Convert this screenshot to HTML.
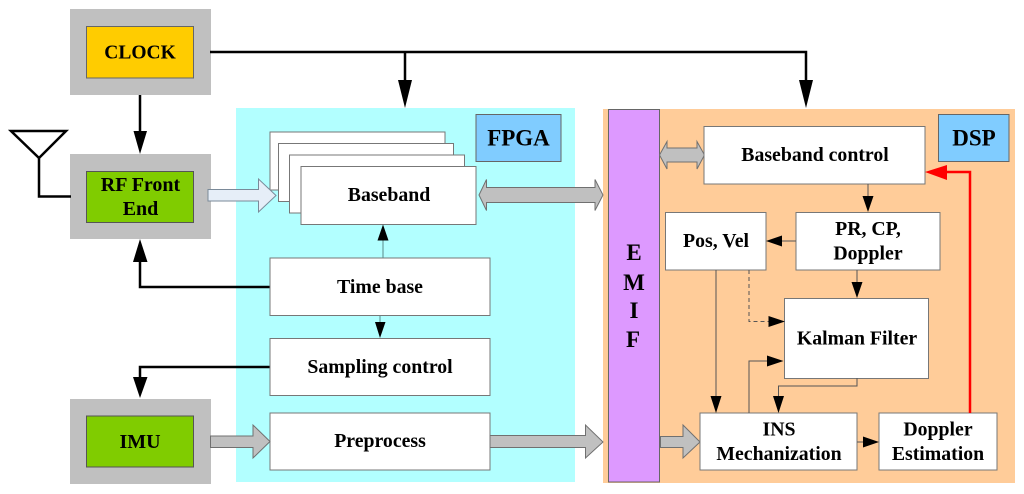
<!DOCTYPE html>
<html><head><meta charset="utf-8"><style>
html,body{margin:0;padding:0;background:#fff;width:1024px;height:494px;overflow:hidden}
svg{display:block}
text{font-family:"Liberation Serif",serif;font-weight:bold;fill:#000;text-anchor:middle}
.b{fill:#fff;stroke:#777;stroke-width:1}
.g{fill:#c0c0c0}
.ar{fill:#c0c0c0;stroke:#707070;stroke-width:1}
.k{fill:none;stroke:#000;stroke-width:2.5}
.t{fill:none;stroke:#555;stroke-width:1}
</style></head><body>
<svg width="1024" height="494" viewBox="0 0 1024 494" xmlns="http://www.w3.org/2000/svg">
<rect x="236" y="108" width="339" height="374" fill="#b2ffff"/>
<rect x="603" y="109" width="412" height="374" fill="#ffcc99"/>
<rect class="g" x="70" y="9" width="141" height="86"/>
<rect class="g" x="70" y="154" width="141" height="85"/>
<rect class="g" x="70" y="399" width="141" height="85"/>
<rect x="86.500" y="26.500" width="107" height="51.500" fill="#ffcc00" stroke="#666"/>
<rect x="86.500" y="171.500" width="107" height="51" fill="#80cc00" stroke="#555"/>
<rect x="86.500" y="416" width="107" height="51" fill="#80cc00" stroke="#555"/>
<text x="140" y="58.500" font-size="19.500">CLOCK</text>
<text x="140.500" y="191" font-size="20">RF Front</text>
<text x="140.500" y="215" font-size="20">End</text>
<text x="140" y="448" font-size="20">IMU</text>

<!-- antenna -->
<path class="k" d="M11 131H66L39 158ZM39 158V196.500H71"/>
<!-- clock lines -->
<path class="k" d="M210 52H806V82M405 52V82M140 95V134M272 287H140V262M270 367H140V377"/>
<path d="M133.500 131H147L140 154ZM398 80H412L405 108ZM799 80H813L806 108ZM133 262H147.500L140 239ZM133 377H147.500L140 398Z"/>

<!-- baseband stack -->
<rect class="b" x="270" y="132" width="175" height="58"/>
<rect class="b" x="278.500" y="143.500" width="175" height="58"/>
<rect class="b" x="289.500" y="155" width="175" height="58"/>
<rect class="b" x="301" y="166.500" width="175" height="58"/>
<text x="389" y="201" font-size="19.800">Baseband</text>

<rect class="b" x="270" y="258" width="220" height="57.500"/>
<rect class="b" x="270" y="338.500" width="220" height="57"/>
<rect class="b" x="270" y="413" width="220" height="57"/>
<text x="380" y="293" font-size="19.800">Time base</text>
<text x="380" y="373" font-size="19.800">Sampling control</text>
<text x="380" y="447" font-size="19.800">Preprocess</text>

<rect x="476" y="114.500" width="85" height="47" fill="#80ccff" stroke="#666"/>
<text x="518.500" y="145.500" font-size="23">FPGA</text>
<rect x="938.500" y="114.500" width="70.500" height="47" fill="#80ccff" stroke="#666"/>
<text x="974" y="145.500" font-size="23">DSP</text>

<rect x="608.500" y="109.500" width="51" height="372.500" fill="#dd99ff" stroke="#666"/>
<text x="634" y="260" font-size="23">E</text>
<text x="634" y="290" font-size="23">M</text>
<text x="634" y="318" font-size="23">I</text>
<text x="633" y="347" font-size="23">F</text>

<!-- small arrows in FPGA -->
<path d="M383 258V240" fill="none" stroke="#5a8a8a" stroke-width="1"/>
<path d="M383 224.500L388.500 240.500H377.500Z"/>
<path d="M380 315.500V325" fill="none" stroke="#5a8a8a" stroke-width="1"/>
<path d="M380 338L375 322H385.500Z"/>

<!-- block arrows -->
<path d="M208 189.500H258.500V179L276 195.500L258.500 212V201H208Z" fill="#e6eef8" stroke="#7a8a99"/>
<path class="ar" d="M210.500 436H253V425L270 441.500L253 458V447.500H210.500Z"/>
<path class="ar" d="M490 435.500H585.500V425L603 442L585.500 458V447.500H490Z"/>
<path class="ar" d="M660.500 436.500H683V425L700 442L683 458V447.500H660.500Z"/>
<path class="ar" d="M479 195L486.500 179.500V187.500H595V179.500L603 195L595 210.500V202.500H486.500V210.500Z"/>
<path class="ar" d="M659.500 155L667 141.500V148H697V141.500L704.500 155L697 169V162H667V169Z"/>

<!-- DSP boxes -->
<rect class="b" x="704" y="126.500" width="221" height="57.500"/>
<rect class="b" x="796" y="212.500" width="144" height="57.500"/>
<rect class="b" x="665.500" y="212.500" width="100.500" height="57.500"/>
<rect class="b" x="784.500" y="298.500" width="144" height="80"/>
<rect class="b" x="700" y="413" width="157" height="57"/>
<rect class="b" x="879" y="413" width="118" height="57"/>
<text x="815" y="161" font-size="19.800">Baseband control</text>
<text x="868" y="235" font-size="19.800">PR, CP,</text>
<text x="868" y="259.500" font-size="19.800">Doppler</text>
<text x="716" y="247" font-size="19.800">Pos, Vel</text>
<text x="857" y="344.500" font-size="19.800">Kalman Filter</text>
<text x="779" y="435.500" font-size="19.800">INS</text>
<text x="779" y="460" font-size="19.800">Mechanization</text>
<text x="938" y="435.500" font-size="19.800">Doppler</text>
<text x="938" y="460" font-size="19.800">Estimation</text>

<!-- DSP connectors -->
<path class="t" d="M868 184V198M796 241H780M857 270V284M716 270V400M857 442H863M749 413V361H770M857 378V386H778.500V400"/>
<path d="M749 270V321.500H770" fill="none" stroke="#555" stroke-width="1" stroke-dasharray="4 3"/>
<path d="M862.500 196H873.500L868 212ZM782 235.500V246.500L766 241ZM851.500 282H862.500L857 298ZM710.500 396H721.500L716 413ZM768.500 316V327L785 321.500ZM767 355.500V366.500L783.500 361ZM773 396H784L778.500 413ZM863 436.500V447.500L879 442Z"/>
<!-- red -->
<path d="M970 413V172H945" fill="none" stroke="#ff0000" stroke-width="2.500"/>
<path d="M925 172L947 165V180Z" fill="#ff0000"/>
</svg>
</body></html>
